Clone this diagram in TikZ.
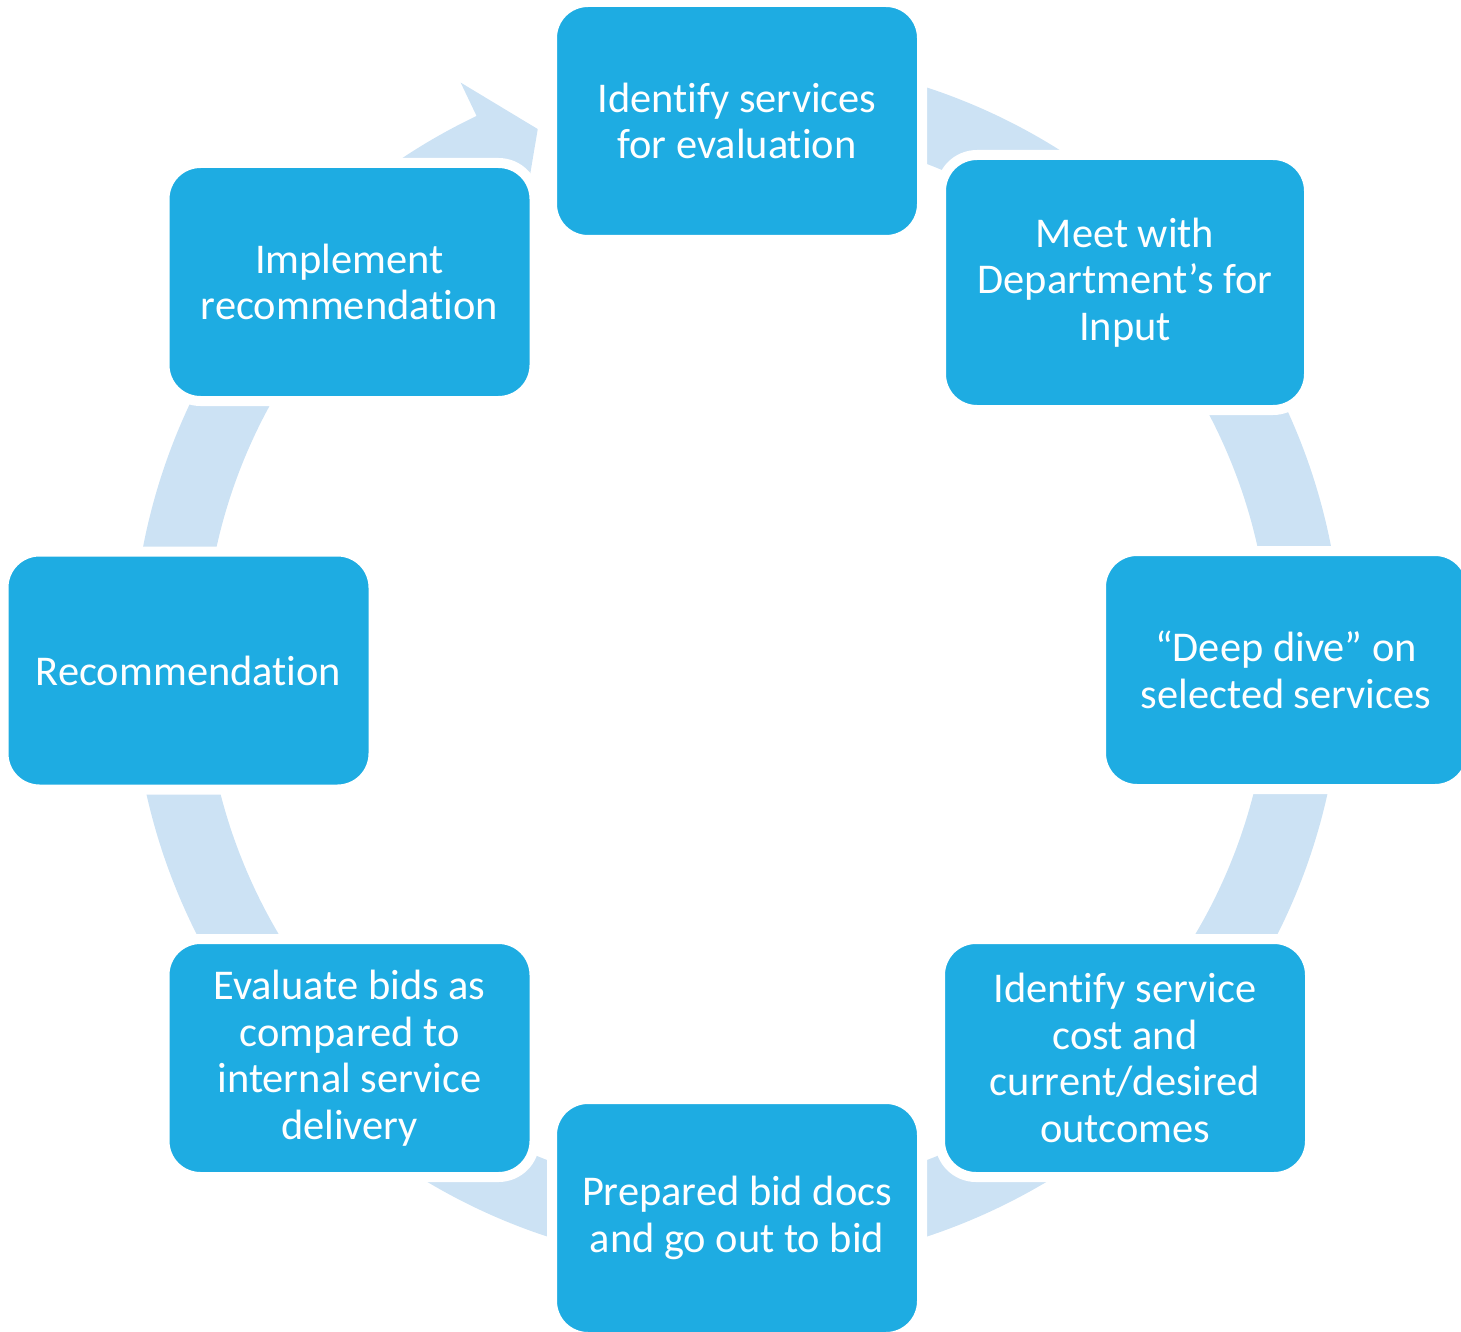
\documentclass[tikz,border=0pt]{standalone}
\usepackage{fontspec}
\setmainfont{Carlito}[Ligatures=NoCommon]
\usetikzlibrary{calc}
\definecolor{boxblue}{RGB}{30,172,226}
\definecolor{ringblue}{RGB}{204,226,244}
\begin{document}
\begin{tikzpicture}[x=0.5pt,y=0.5pt,
  stepbox/.style={fill=boxblue, draw=white, line width=5pt, rounded corners=18pt,
    minimum width=185pt, minimum height=119pt, inner sep=0pt, align=center,
    text=white, font=\fontsize{21.2pt}{23.25pt}\selectfont}]
\useasboundingbox (0,0) rectangle (1461,-1332);
\clip (0,0) rectangle (1461,-1332);
\coordinate (C) at (737,-662);
% circular arrow band
\fill[ringblue] ($(C)+(80:605)$) arc[start angle=80,end angle=-244.5,radius=605]
  -- ($(C)+(115.5:642)$) -- ($(C)+(110.5:569)$) -- ($(C)+(115.5:496)$)
  -- ($(C)+(115.5:533)$) arc[start angle=115.5,end angle=440,radius=533] -- cycle;
% steps
\node[stepbox] (b1) at (737,-121) {Identify services\\for evaluation};
\node[stepbox, minimum width=184pt, minimum height=127.5pt] (b2) at (1125,-282.5) {Meet with\\Department’s for\\Input};
\node[stepbox] (b3) at (1286,-670) {“Deep dive” on\\selected services};
\node[stepbox] (b4) at (1125,-1058) {Identify service\\cost and\\current/desired\\outcomes};
\node[stepbox] (b5) at (737,-1218) {Prepared bid docs\\and go out to bid};
\node[stepbox] (b6) at (349.5,-1058) {Evaluate bids as\\compared to\\internal service\\delivery};
\node[stepbox] (b7) at (188.5,-670.5) {Recommendation};
\node[stepbox] (b8) at (349.5,-282) {Implement\\recommendation};
\end{tikzpicture}
\end{document}
